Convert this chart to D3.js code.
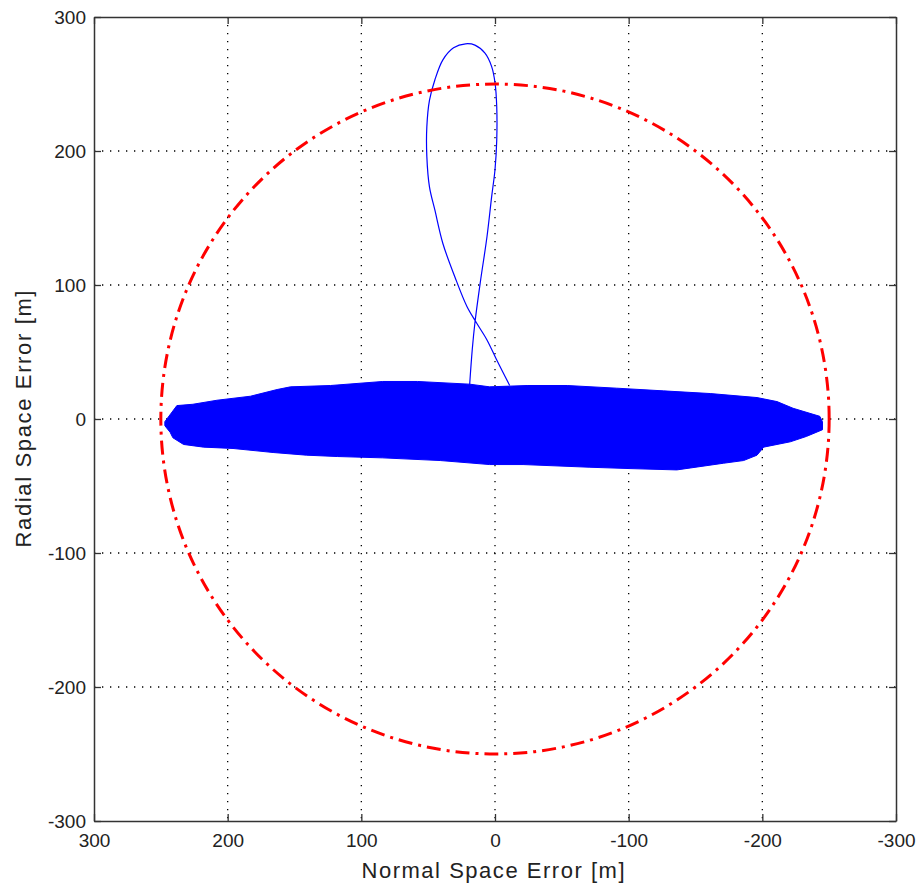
<!DOCTYPE html>
<html>
<head>
<meta charset="utf-8">
<script src="https://cdn.jsdelivr.net/npm/d3@7"></script>
<style>
  body { margin: 0; background: #fff; }
  text { font-family: "Liberation Sans", Arial, sans-serif; fill: #222; }
</style>
</head>
<body>
<div id="chart"></div>
<script>
// frame setup
const FRAME_WIDTH = 916;
const FRAME_HEIGHT = 883;
const MARGINS = {left: 94, right: 20, top: 17, bottom: 62};

// tick values for both axes
const X_TICKS = [300, 200, 100, 0, -100, -200, -300];
const Y_TICKS = [300, 200, 100, 0, -100, -200, -300];

// error bound radius [m]
const RADIUS = 250;

// dense error cloud, upper edge (left to right)
const CLOUD_TOP_X = [247, 238, 226, 208, 183, 163, 153, 123, 84, 58, 19, 4, -24, -54, -91, -126, -161, -196, -211, -223, -243, -245];
const CLOUD_TOP_Y = [-2, 10, 11, 14, 17, 22, 24, 25, 28, 28, 26, 24, 25, 25, 23, 21, 19, 16, 13, 8, 2, -2];
// lower edge (right to left)
const CLOUD_BOT_X = [-245, -233, -221, -201, -196, -186, -171, -136, -101, -71, -21, 4, 41, 84, 118, 141, 166, 196, 218, 233, 241, 243, 247];
const CLOUD_BOT_Y = [-8, -13, -17, -21, -27, -31, -33, -38, -37, -36, -34, -34, -31, -29, -28, -27, -25, -22, -21, -19, -14, -10, -5];

// initial transient loop
const LOOP_X = [19, 17, 15, 11, 6, 2.5, 0, -1.3, -1.3, 0, 2.5, 7.5, 15, 22, 31, 39, 45, 49, 51, 51, 49, 45, 39, 30, 21, 14, 6, -1.3, -11];
const LOOP_Y = [25, 52, 72, 102, 136, 166, 186, 208, 233, 251, 263, 273, 279, 280, 277, 268, 253, 238, 218, 196, 173, 156, 131, 106, 84, 72, 59, 44, 25];

const FRAME1 = d3.select("#chart")
                  .append("svg")
                    .attr("width", FRAME_WIDTH)
                    .attr("height", FRAME_HEIGHT);

const VIS_WIDTH = FRAME_WIDTH - MARGINS.left - MARGINS.right;
const VIS_HEIGHT = FRAME_HEIGHT - MARGINS.top - MARGINS.bottom;

// reversed x axis (300 on the left)
const X_SCALE = d3.scaleLinear()
                    .domain([300, -300])
                    .range([MARGINS.left, MARGINS.left + VIS_WIDTH]);
const Y_SCALE = d3.scaleLinear()
                    .domain([-300, 300])
                    .range([MARGINS.top + VIS_HEIGHT, MARGINS.top]);

// dotted grid
FRAME1.append("g")
    .selectAll("line")
    .data(X_TICKS.slice(1, -1))
    .enter()
    .append("line")
      .attr("x1", (d) => X_SCALE(d))
      .attr("x2", (d) => X_SCALE(d))
      .attr("y1", Y_SCALE(300))
      .attr("y2", Y_SCALE(-300))
      .attr("stroke", "#000")
      .attr("stroke-width", 1.3)
      .attr("stroke-dasharray", "1.3,6.7");

FRAME1.append("g")
    .selectAll("line")
    .data(Y_TICKS.slice(1, -1))
    .enter()
    .append("line")
      .attr("x1", X_SCALE(300))
      .attr("x2", X_SCALE(-300))
      .attr("y1", (d) => Y_SCALE(d))
      .attr("y2", (d) => Y_SCALE(d))
      .attr("stroke", "#000")
      .attr("stroke-width", 1.3)
      .attr("stroke-dasharray", "1.3,6.7");

// cloud polygon
const cloud = CLOUD_TOP_X.map((x, i) => [x, CLOUD_TOP_Y[i]])
    .concat(CLOUD_BOT_X.map((x, i) => [x, CLOUD_BOT_Y[i]]));

FRAME1.append("path")
    .datum(cloud)
    .attr("d", d3.line()
        .x((d) => X_SCALE(d[0]))
        .y((d) => Y_SCALE(d[1]))
        .curve(d3.curveLinearClosed))
    .attr("fill", "#0000ff")
    .attr("stroke", "#0000ff")
    .attr("stroke-width", 1);

// loop line
const loop = LOOP_X.map((x, i) => [x, LOOP_Y[i]]);
FRAME1.append("path")
    .datum(loop)
    .attr("d", d3.line()
        .x((d) => X_SCALE(d[0]))
        .y((d) => Y_SCALE(d[1]))
        .curve(d3.curveCatmullRom))
    .attr("fill", "none")
    .attr("stroke", "#0000ff")
    .attr("stroke-width", 1.2);

// red bound circle
FRAME1.append("ellipse")
    .attr("cx", X_SCALE(0))
    .attr("cy", Y_SCALE(0))
    .attr("rx", Math.abs(X_SCALE(RADIUS) - X_SCALE(0)))
    .attr("ry", Math.abs(Y_SCALE(RADIUS) - Y_SCALE(0)))
    .attr("fill", "none")
    .attr("stroke", "#ff0000")
    .attr("stroke-width", 3)
    .attr("stroke-dasharray", "14,6,3,6");

// axes (ticks inward, box); plain hyphen for negatives like the original
const fmt = (d) => String(d);
const tickOpts = (axis) => axis.tickSizeInner(-7).tickSizeOuter(0).tickPadding(10);

const xAxis = FRAME1.append("g")
    .attr("transform", "translate(0," + Y_SCALE(-300) + ")")
    .call(tickOpts(d3.axisBottom(X_SCALE).tickValues(X_TICKS).tickFormat(fmt)));
const xTop = FRAME1.append("g")
    .attr("transform", "translate(0," + Y_SCALE(300) + ")")
    .call(tickOpts(d3.axisTop(X_SCALE).tickValues(X_TICKS)).tickFormat(""));
const yAxis = FRAME1.append("g")
    .attr("transform", "translate(" + X_SCALE(300) + ",0)")
    .call(tickOpts(d3.axisLeft(Y_SCALE).tickValues(Y_TICKS).tickFormat(fmt)));
const yRight = FRAME1.append("g")
    .attr("transform", "translate(" + X_SCALE(-300) + ",0)")
    .call(tickOpts(d3.axisRight(Y_SCALE).tickValues(Y_TICKS)).tickFormat(""));

[xAxis, xTop, yAxis, yRight].forEach((g) => {
    g.select(".domain").attr("stroke", "#333").attr("stroke-width", 1.5);
    g.selectAll(".tick line").attr("stroke", "#333").attr("stroke-width", 1.3);
    g.selectAll(".tick text")
        .attr("font-size", "19px")
        .attr("font-family", "Liberation Sans, Arial, sans-serif")
        .attr("fill", "#222");
});
xAxis.selectAll(".tick text").attr("dy", "0.75em").attr("y", 12);
yAxis.selectAll(".tick text").attr("x", -8);

// axis labels
FRAME1.append("text")
    .attr("x", 493)
    .attr("y", 878)
    .attr("text-anchor", "middle")
    .attr("font-size", "22px")
    .attr("textLength", 263)
    .attr("lengthAdjust", "spacing")
    .text("Normal Space Error [m]");

FRAME1.append("text")
    .attr("transform", "translate(31," + Y_SCALE(0) + ") rotate(-90)")
    .attr("text-anchor", "middle")
    .attr("font-size", "22px")
    .attr("textLength", 257)
    .attr("lengthAdjust", "spacing")
    .text("Radial Space Error [m]");
</script>
</body>
</html>
